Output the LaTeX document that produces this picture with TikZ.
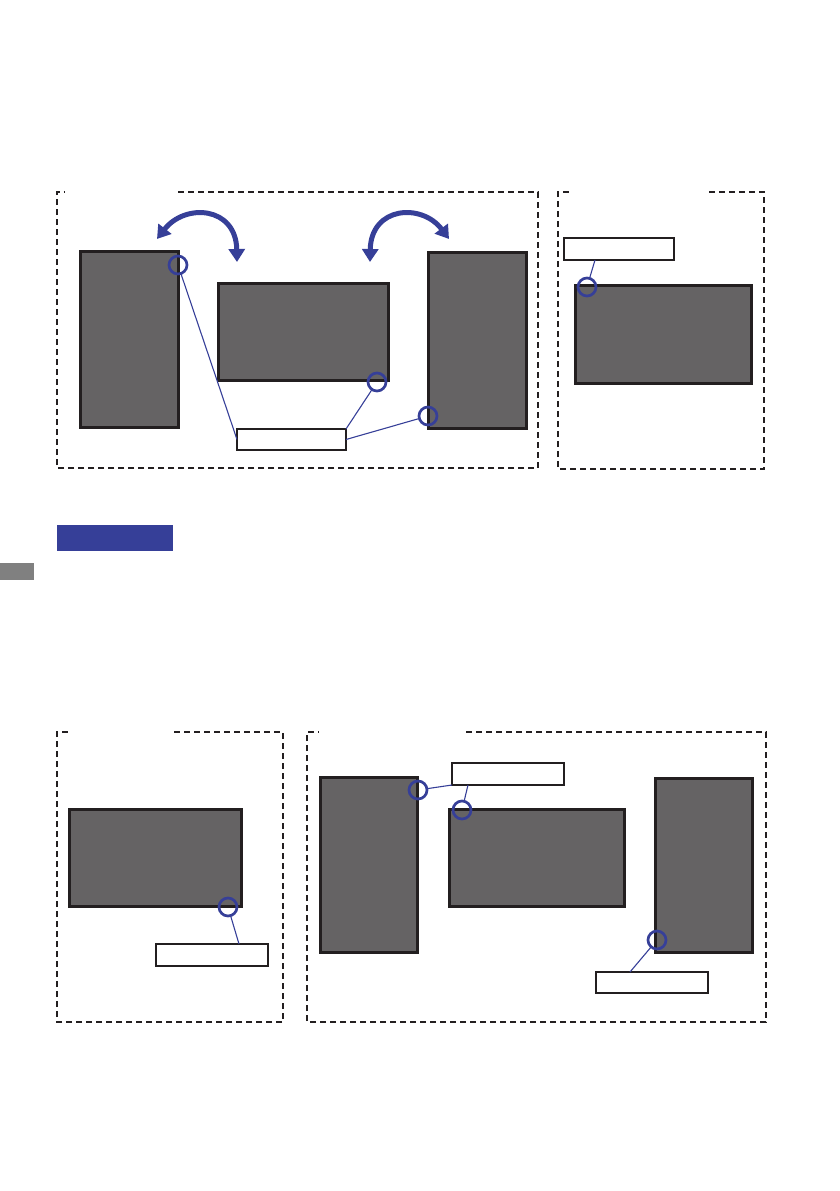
\documentclass[tikz,border=0pt]{standalone}
\usetikzlibrary{arrows.meta}
\definecolor{mblue}{HTML}{363F98}
\definecolor{pfill}{HTML}{656364}
\definecolor{pedge}{HTML}{231F20}
\begin{document}
\begin{tikzpicture}[x=1pt,y=-1pt,
  panel/.style={draw=pedge,fill=pfill,line width=3.4pt,inner sep=0pt,outer sep=0pt,rectangle},
  lbox/.style={draw=pedge,fill=white,line width=1.2pt,inner sep=0pt,outer sep=0pt,rectangle},
  ring/.style={draw=mblue,line width=2.7pt,circle,minimum size=18pt,inner sep=0pt,outer sep=0pt},
  lead/.style={draw=mblue,line width=1.1pt},
  frame/.style={draw=pedge,line width=1.3pt,dash pattern=on 6pt off 4pt},
  turn/.style={draw=mblue,line width=5pt,{Triangle[length=13pt,width=16pt]}-{Triangle[length=13pt,width=16pt]}}]
\useasboundingbox (0,0) rectangle (839,1191);
% frames
\draw[frame] (178,192) -- (538,192) -- (538,468) -- (57,468) -- (57,192) -- (65,192);
\draw[frame] (709,192) -- (764,192) -- (764,469) -- (558,469) -- (558,192) -- (572,192);
\draw[frame] (174,732) -- (283,732) -- (283,1022) -- (57,1022) -- (57,732) -- (70,732);
\draw[frame] (466,732) -- (766,732) -- (766,1022) -- (307,1022) -- (307,732) -- (319,732);
% header bar and tab
\fill[mblue] (57,525) rectangle (173,551);
\fill[black!50] (0,563) rectangle (34,580);
% panels, frame 1
\node[panel,minimum width=97.6pt,minimum height=175.6pt] (p1) at (129.5,339.5) {};
\node[panel,minimum width=169.6pt,minimum height=96.6pt] (p2) at (303.5,332) {};
\node[panel,minimum width=97.6pt,minimum height=175.6pt] (p3) at (477.5,340.5) {};
% frame 2
\node[panel,minimum width=175.6pt,minimum height=97.6pt] (p4) at (663.5,334.5) {};
% frame 3
\node[panel,minimum width=171.6pt,minimum height=96.6pt] (p5) at (155.5,858) {};
% frame 4
\node[panel,minimum width=96.6pt,minimum height=174.6pt] (p6) at (369,865) {};
\node[panel,minimum width=174.6pt,minimum height=96.6pt] (p7) at (537,858) {};
\node[panel,minimum width=96.6pt,minimum height=173.6pt] (p8) at (704,865.5) {};
% rotation arrows
\draw[turn] (157,239) .. controls (185,203) and (236,206) .. (237,262);
\draw[turn] (370,262) .. controls (371,206) and (422,203) .. (449,239);
% label boxes
\node[lbox,minimum width=109pt,minimum height=21pt] (b1) at (291.5,439.5) {};
\node[lbox,minimum width=110pt,minimum height=22pt] (b2) at (619,249) {};
\node[lbox,minimum width=112pt,minimum height=22pt] (b3) at (212,955) {};
\node[lbox,minimum width=112pt,minimum height=22pt] (b4) at (508,774) {};
\node[lbox,minimum width=112pt,minimum height=21pt] (b5) at (652,982.5) {};
% rings
\node[ring] (c1) at (178,265) {};
\node[ring] (c2) at (377,382) {};
\node[ring] (c3) at (428,416) {};
\node[ring] (c4) at (587,287) {};
\node[ring] (c5) at (228,907) {};
\node[ring] (c6) at (418,790) {};
\node[ring] (c7) at (462,810) {};
\node[ring] (c8) at (657,940) {};
% leader lines
\draw[lead] (c1) -- (b1.west);
\draw[lead] (c2) -- (b1.north east);
\draw[lead] (c3) -- (b1.east);
\draw[lead] (c4) -- ([xshift=31pt]b2.south west);
\draw[lead] (c5) -- ([xshift=83pt]b3.north west);
\draw[lead] (c6) -- (b4.south west);
\draw[lead] (c7) -- ([xshift=16pt]b4.south west);
\draw[lead] (c8) -- ([xshift=34pt]b5.north west);
\end{tikzpicture}
\end{document}
